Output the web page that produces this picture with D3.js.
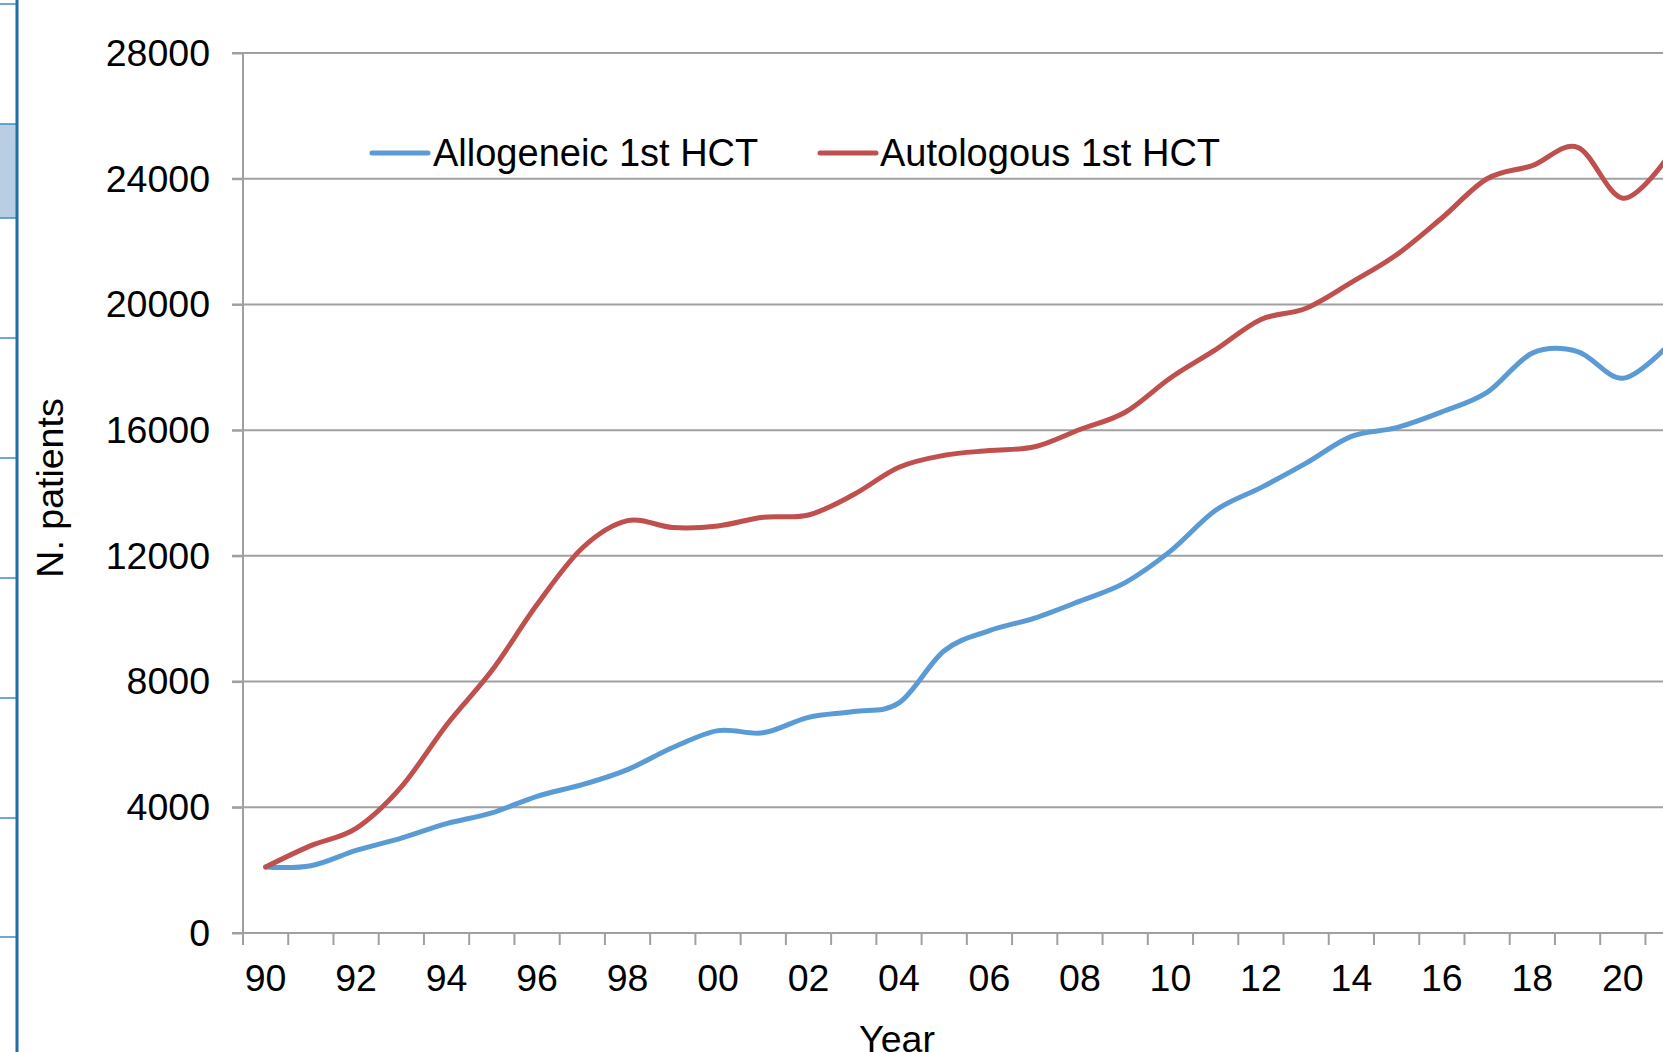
<!DOCTYPE html>
<html>
<head>
<meta charset="utf-8">
<script src="https://cdn.jsdelivr.net/npm/d3@7"></script>
<style>
  html, body { margin: 0; padding: 0; background: #ffffff; overflow: hidden; }
  svg { display: block; font-family: "Liberation Sans", Arial, sans-serif; }
</style>
</head>
<body>
<svg id="chart" width="1663" height="1052"></svg>
<script>
// ---- data ----
const categories = ["90","91","92","93","94","95","96","97","98","99",
                    "00","01","02","03","04","05","06","07","08","09",
                    "10","11","12","13","14","15","16","17","18","19",
                    "20","21"];
const tickLabels = ["90","92","94","96","98","00","02","04","06","08",
                    "10","12","14","16","18","20"];
const allogeneic = [2100,2140,2630,3020,3480,3820,4350,4720,5200,5900,
                    6440,6370,6860,7050,7320,8980,9620,10020,10560,11150,
                    12150,13450,14170,14950,15800,16080,16580,17200,18450,18500,
                    17650,18700];
const autologous = [2100,2780,3330,4650,6620,8350,10450,12250,13120,12900,
                    12950,13230,13300,13950,14820,15200,15350,15470,16020,16570,
                    17660,18560,19520,19880,20700,21580,22750,24000,24420,25000,
                    23380,24700];
const yTicks = [0,4000,8000,12000,16000,20000,24000,28000];
const seriesNames = ["Allogeneic 1st HCT","Autologous 1st HCT"];
const seriesColors = ["#5B9BD5","#C0504D"];

(function () {
// ---- layout ----
const W = 1663, H = 1052;
const pLeft = 243, pTop = 53, pBottom = 933;
const step = 45.24;
const svg = d3.select("#chart");

const x = d3.scaleBand().domain(categories)
  .range([pLeft, pLeft + step * categories.length]).padding(0);
const cx = d => x(d) + x.bandwidth() / 2;
const y = d3.scaleLinear().domain([0, 28000]).range([pBottom, pTop]);

// ---- left slide decoration ----
const deco = svg.append("g");
deco.append("rect").attr("x", 0).attr("y", 124).attr("width", 17).attr("height", 94)
  .attr("fill", "#b9cde5");
[4,124,218,338,458,578,698,818,937].forEach(v => {
  deco.append("line").attr("x1", 0).attr("x2", 17).attr("y1", v).attr("y2", v)
    .attr("stroke", "#3d8cc4").attr("stroke-width", 1.5);
});
deco.append("line").attr("x1", 17).attr("x2", 17).attr("y1", 0).attr("y2", H)
  .attr("stroke", "#1f6fa8").attr("stroke-width", 3);

// ---- gridlines ----
const grid = svg.append("g");
grid.selectAll("line").data(yTicks.filter(t => t > 0)).join("line")
  .attr("x1", pLeft - 11).attr("x2", W)
  .attr("y1", d => y(d)).attr("y2", d => y(d))
  .attr("stroke", "#a0a0a0").attr("stroke-width", 2);

// ---- y axis ----
const yAxis = d3.axisLeft(y).tickValues(yTicks).tickSize(11).tickPadding(22)
  .tickFormat(d3.format("d"));
const gy = svg.append("g").attr("transform", `translate(${pLeft},0)`).call(yAxis);
gy.select(".domain").attr("stroke", "#a0a0a0").attr("stroke-width", 2)
  .attr("d", `M0,${pTop}V${pBottom}`);
gy.selectAll(".tick line").attr("stroke", "#a0a0a0").attr("stroke-width", 2);
gy.selectAll(".tick text").attr("font-size", 37.5).attr("fill", "#000")
  .attr("font-family", "Liberation Sans, Arial, sans-serif").attr("dy", "0.33em");

// ---- x axis ----
const xAxis = d3.axisBottom(x).tickValues(tickLabels).tickSize(0).tickPadding(31);
const gx = svg.append("g").attr("transform", `translate(0,${pBottom})`).call(xAxis);
gx.select(".domain").attr("stroke", "#a0a0a0").attr("stroke-width", 2)
  .attr("d", `M${pLeft - 11},0H${W}`);
gx.selectAll(".tick text").attr("font-size", 37.5).attr("fill", "#000")
  .attr("font-family", "Liberation Sans, Arial, sans-serif");
gx.selectAll(".xt").data(categories).join("line").attr("class", "xt")
  .attr("x1", d => x(d)).attr("x2", d => x(d)).attr("y1", 0).attr("y2", 12)
  .attr("stroke", "#a0a0a0").attr("stroke-width", 2);

// ---- axis titles ----
svg.append("text").attr("transform", "translate(63,488) rotate(-90)")
  .attr("text-anchor", "middle").attr("font-size", 37.5).attr("fill", "#000")
  .text("N. patients");
svg.append("text").attr("x", 897).attr("y", 1052)
  .attr("text-anchor", "middle").attr("font-size", 37.5).attr("fill", "#000")
  .text("Year");

// ---- lines ----
const line = d3.line().x((d, i) => cx(categories[i])).y(d => y(d))
  .curve(d3.curveCardinal.tension(0));
const series = [allogeneic, autologous];
svg.append("g").selectAll("path").data(series).join("path")
  .attr("d", d => line(d)).attr("fill", "none")
  .attr("stroke", (d, i) => seriesColors[i]).attr("stroke-width", 5)
  .attr("stroke-linecap", "round").attr("stroke-linejoin", "round");

// ---- legend ----
const legendPos = [{lx: 372, tx: 433}, {lx: 820, tx: 880}];
const lg = svg.append("g");
seriesNames.forEach((name, i) => {
  lg.append("line").attr("x1", legendPos[i].lx).attr("x2", legendPos[i].lx + 56)
    .attr("y1", 153).attr("y2", 153)
    .attr("stroke", seriesColors[i]).attr("stroke-width", 5).attr("stroke-linecap", "round");
  lg.append("text").attr("x", legendPos[i].tx).attr("y", 166)
    .attr("font-size", 38).attr("fill", "#000").text(name);
});
})();
</script>
</body>
</html>
